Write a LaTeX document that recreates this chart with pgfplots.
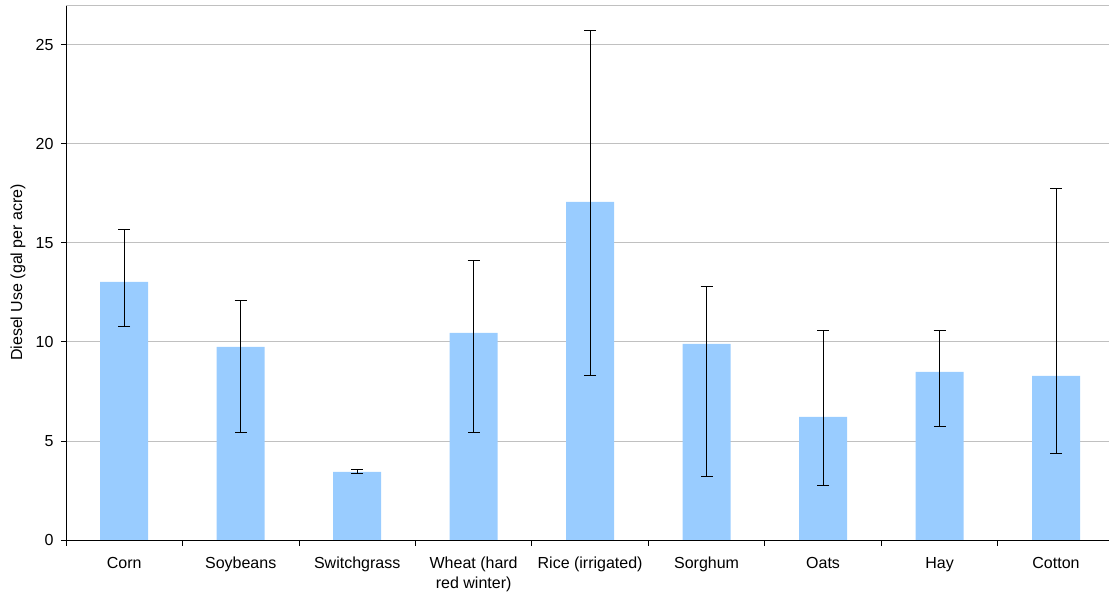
\documentclass[border=0pt]{standalone}
\usepackage{pgfplots}
\pgfplotsset{compat=1.18}
\usepackage{fontspec}
\setmainfont{Liberation Sans}
\definecolor{barblue}{HTML}{99CCFF}
\definecolor{gridgray}{HTML}{C0C0C0}
\begin{document}
\begin{tikzpicture}
\begin{axis}[
  scale only axis,
  width=1043pt, height=535pt,
  xmin=-0.5, xmax=8.455,
  ymin=0, ymax=27,
  axis x line*=bottom, axis y line*=left,
  axis line style={black, line width=0.8pt},
  ytick={0,5,10,15,20,25},
  ymajorgrids, grid style={gridgray, line width=0.8pt},
  extra y ticks={27}, extra y tick labels={},
  extra y tick style={grid=major, major tick length=0pt},
  xtick={0,...,8},
  xticklabels={\strut Corn,\strut Soybeans,\strut Switchgrass,{\strut Wheat (hard\\red winter)},\strut Rice (irrigated),\strut Sorghum,\strut Oats,\strut Hay,\strut Cotton},
  major x tick style={draw=none},
  minor xtick={-0.5,0.5,...,7.5},
  minor tick length=6pt,
  minor x tick style={black, line width=0.8pt},
  major tick length=5pt,
  y tick style={black, line width=0.8pt},
  tick align=outside,
  xticklabel style={align=center, font=\fontsize{16}{20}\selectfont, yshift=-6pt},
  yticklabel style={font=\fontsize{16}{19}\selectfont, xshift=-4pt},
  /pgf/number format/assume math mode=true,
  ylabel={Diesel Use (gal per acre)},
  every axis y label/.style={at={(axis description cs:-0.046,0.5)}, rotate=90, anchor=center, font=\fontsize{16}{19}\selectfont},
  clip=false,
]
\addplot[ybar, bar width=48pt, fill=barblue, draw=none,
  error bars/.cd, y dir=both, y explicit,
  error bar style={black, line width=1pt},
  error mark options={rotate=90, mark size=6pt, black, line width=1pt}]
coordinates {
  (0,13.03) += (0,2.63) -= (0,2.27)
  (1,9.75) += (0,2.32) -= (0,4.30)
  (2,3.44) += (0,0.13) -= (0,0.07)
  (3,10.45) += (0,3.64) -= (0,5.05)
  (4,17.07) += (0,8.63) -= (0,8.79)
  (5,9.90) += (0,2.88) -= (0,6.72)
  (6,6.21) += (0,4.35) -= (0,3.48)
  (7,8.48) += (0,2.09) -= (0,2.76)
  (8,8.28) += (0,9.45) -= (0,3.89)
};
\end{axis}
\pgfresetboundingbox
\path (-66pt,-54pt) rectangle (1043pt,540pt);
\end{tikzpicture}
\end{document}
